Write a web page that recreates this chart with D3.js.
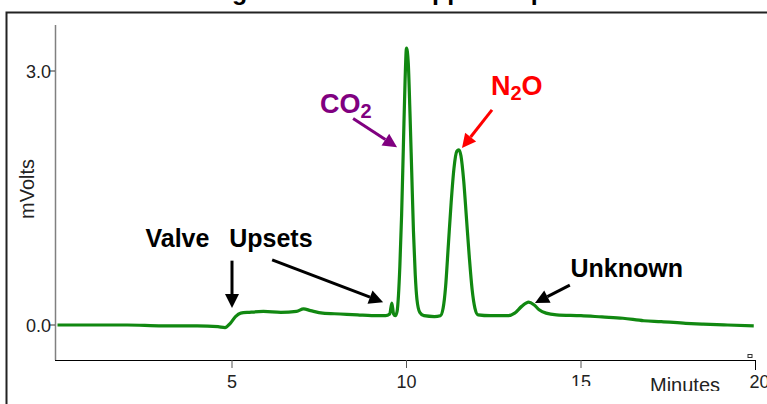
<!DOCTYPE html>
<html>
<head>
<meta charset="utf-8">
<script src="https://cdn.jsdelivr.net/npm/d3@7"></script>
<style>
  body { margin: 0; background: #fff; }
  svg { display: block; font-family: Arial, "Liberation Sans", sans-serif; }
</style>
</head>
<body>
<div id="chart"></div>
<script>
var width = 767, height = 404;

// detector trace (minutes, mVolts)
var times = [0, 1, 2, 3, 4, 4.6, 4.8, 4.95, 5.1, 5.25, 5.5, 5.9, 6.4, 6.85, 7.05, 7.25, 7.6, 8.1, 8.6, 9.0, 9.4,
  9.52, 9.58, 9.63, 9.68, 9.73, 9.77, 9.81, 9.86, 9.91, 9.96, 10.0, 10.05, 10.1, 10.15, 10.2, 10.25, 10.3, 10.38, 10.5, 10.8,
  10.97, 11.05, 11.12, 11.2, 11.28, 11.36, 11.44, 11.5, 11.56, 11.64, 11.72, 11.8, 11.88, 11.96, 12.05, 12.4,
  12.9, 13.1, 13.3, 13.5, 13.65, 13.8, 14.0, 14.3, 15.0, 15.6, 16.2, 16.8, 17.3, 18.0, 18.5, 19.2, 19.95];
var mvolts = [0.0, 0.0, 0.0, -0.01, -0.01, -0.02, -0.03, 0.02, 0.1, 0.14, 0.15, 0.16, 0.15, 0.16, 0.19, 0.17, 0.14, 0.13, 0.12, 0.11, 0.11,
  0.13, 0.26, 0.13, 0.11, 0.16, 0.35, 0.7, 1.3, 2.1, 2.9, 3.27, 3.1, 2.5, 1.8, 1.1, 0.6, 0.3, 0.15, 0.11, 0.1,
  0.11, 0.2, 0.45, 0.95, 1.45, 1.85, 2.05, 2.07, 2.0, 1.7, 1.25, 0.8, 0.42, 0.2, 0.12, 0.11,
  0.11, 0.14, 0.22, 0.27, 0.24, 0.18, 0.14, 0.12, 0.11, 0.095, 0.08, 0.05, 0.04, 0.02, 0.01, 0.0, -0.01];

var xTicks = [5, 10, 15, 20];
var yTicks = [0, 3];

// annotations: label, label anchor and arrow (start -> tip) in chart units
var labels = [
  { text: "Valve", t: 2.52, v: 0.92, color: "#000" },
  { text: "Upsets", t: 4.92, v: 0.92, color: "#000" },
  { text: "Unknown", t: 14.7, v: 0.57, color: "#000" }
];
var formulas = [
  { main: "CO", sub: "2", tail: "", t: 7.52, v: 2.5, color: "#800080" },
  { main: "N", sub: "2", tail: "O", t: 12.42, v: 2.72, color: "#ff0000" }
];
var arrows = [
  { t0: 5.0, v0: 0.76, t1: 5.0, v1: 0.2, color: "#000" },
  { t0: 6.15, v0: 0.77, t1: 9.33, v1: 0.27, color: "#000" },
  { t0: 8.47, v0: 2.44, t1: 9.73, v1: 2.1, color: "#800080" },
  { t0: 12.45, v0: 2.54, t1: 11.59, v1: 2.09, color: "#ff0000" },
  { t0: 14.68, v0: 0.47, t1: 13.68, v1: 0.26, color: "#000" }
];

var svg = d3.select("#chart").append("svg")
  .attr("width", width)
  .attr("height", height);

var x = d3.scaleLinear().domain([0, 20]).range([57.5, 755.5]);
var y = d3.scaleLinear().domain([0, 3]).range([325, 71]);

// title, mostly cut off by the top edge like in the source
svg.append("text")
  .attr("x", 114)
  .attr("y", 0)
  .style("font-size", "25px")
  .style("font-weight", "bold")
  .text("Chromatogram of Gas in Upper Trap");

// outer frame
svg.append("path")
  .attr("d", "M6.5," + height + "V12.5H" + width)
  .attr("fill", "none")
  .attr("stroke", "#222")
  .attr("stroke-width", 2);

// y axis
var yAxis = svg.append("g").attr("transform", "translate(55,0)");
yAxis.append("line")
  .attr("x1", 0.5).attr("x2", 0.5)
  .attr("y1", 25).attr("y2", 360)
  .attr("stroke", "#808080")
  .attr("stroke-width", 1.5);
yAxis.selectAll(".ytick")
  .data(yTicks)
  .enter()
  .append("line")
  .attr("class", "ytick")
  .attr("x1", -6).attr("x2", 0)
  .attr("y1", (d) => y(d)).attr("y2", (d) => y(d))
  .attr("stroke", "#333");
yAxis.selectAll(".ylabel")
  .data(yTicks)
  .enter()
  .append("text")
  .attr("class", "ylabel")
  .attr("x", -4)
  .attr("y", (d) => y(d))
  .attr("dy", "0.38em")
  .attr("text-anchor", "end")
  .style("font-size", "18px")
  .style("fill", "#222")
  .text((d) => d3.format(".1f")(d));

svg.append("text")
  .attr("transform", "translate(34,189) rotate(-90)")
  .attr("text-anchor", "middle")
  .style("font-size", "20px")
  .style("fill", "#222")
  .text("mVolts");

// x axis
var xAxis = svg.append("g").attr("transform", "translate(0,360)");
xAxis.append("line")
  .attr("x1", 55).attr("x2", x(20))
  .attr("y1", 0.5).attr("y2", 0.5)
  .attr("stroke", "#000")
  .attr("stroke-width", 1.2);
xAxis.selectAll(".xtick")
  .data(xTicks)
  .enter()
  .append("line")
  .attr("class", "xtick")
  .attr("x1", (d) => x(d)).attr("x2", (d) => x(d))
  .attr("y1", 0).attr("y2", d => d === 20 ? 10 : 8)
  .attr("stroke", (d) => d === 20 ? "#000" : "#555");

var defs = svg.append("defs");
defs.append("clipPath").attr("id", "clip15")
  .append("rect").attr("x", 0).attr("y", 0).attr("width", width).attr("height", 386);
defs.append("clipPath").attr("id", "clipMin")
  .append("rect").attr("x", 0).attr("y", 0).attr("width", width).attr("height", 391);

svg.selectAll(".xlabel")
  .data(xTicks)
  .enter()
  .append("text")
  .attr("class", "xlabel")
  .attr("x", (d) => d === 20 ? x(d) - 6 : x(d))
  .attr("y", 388)
  .attr("text-anchor", (d) => d === 20 ? "start" : "middle")
  .attr("clip-path", (d) => d === 15 ? "url(#clip15)" : null)
  .style("font-size", "18px")
  .style("fill", "#222")
  .text((d) => d);

svg.append("text")
  .attr("x", 720)
  .attr("y", 392)
  .attr("text-anchor", "end")
  .attr("clip-path", "url(#clipMin)")
  .style("font-size", "20px")
  .style("fill", "#222")
  .text("Minutes");

// tiny marker at the end of the axis
svg.append("rect")
  .attr("x", x(20) - 7.5).attr("y", 354.5)
  .attr("width", 4).attr("height", 3)
  .attr("fill", "#fff")
  .attr("stroke", "#333")
  .attr("stroke-width", 1);

// trace
var trace = times.map((t, i) => ({ t: t, v: mvolts[i] }));
var line = d3.line()
  .x((d) => x(d.t))
  .y((d) => y(d.v))
  .curve(d3.curveMonotoneX);

svg.append("path")
  .datum(trace)
  .attr("d", line)
  .attr("fill", "none")
  .attr("stroke", "#118811")
  .attr("stroke-width", 3.2)
  .attr("stroke-linejoin", "round");

// arrows
arrows.forEach(function (a) {
  var x0 = x(a.t0), y0 = y(a.v0), x1 = x(a.t1), y1 = y(a.v1);
  var ang = Math.atan2(y1 - y0, x1 - x0);
  var len = 14, half = 7;
  var bx = x1 - len * Math.cos(ang), by = y1 - len * Math.sin(ang);
  svg.append("line")
    .attr("x1", x0).attr("y1", y0)
    .attr("x2", bx).attr("y2", by)
    .attr("stroke", a.color)
    .attr("stroke-width", 3);
  var px = -Math.sin(ang) * half, py = Math.cos(ang) * half;
  svg.append("polygon")
    .attr("points", [[x1, y1], [bx + px, by + py], [bx - px, by - py]].map((p) => p.join(",")).join(" "))
    .attr("fill", a.color);
});

// text labels
svg.selectAll(".anno")
  .data(labels)
  .enter()
  .append("text")
  .attr("class", "anno")
  .attr("x", (d) => x(d.t))
  .attr("y", (d) => y(d.v))
  .style("font-size", "25px")
  .style("font-weight", "bold")
  .style("fill", (d) => d.color)
  .text((d) => d.text);

formulas.forEach(function (f) {
  var t = svg.append("text")
    .attr("x", x(f.t))
    .attr("y", y(f.v))
    .style("font-size", "27px")
    .style("font-weight", "bold")
    .style("fill", f.color);
  t.append("tspan").text(f.main);
  t.append("tspan").attr("dy", 5).style("font-size", "20px").text(f.sub);
  if (f.tail) t.append("tspan").attr("dy", -5).text(f.tail);
});
</script>
</body>
</html>
